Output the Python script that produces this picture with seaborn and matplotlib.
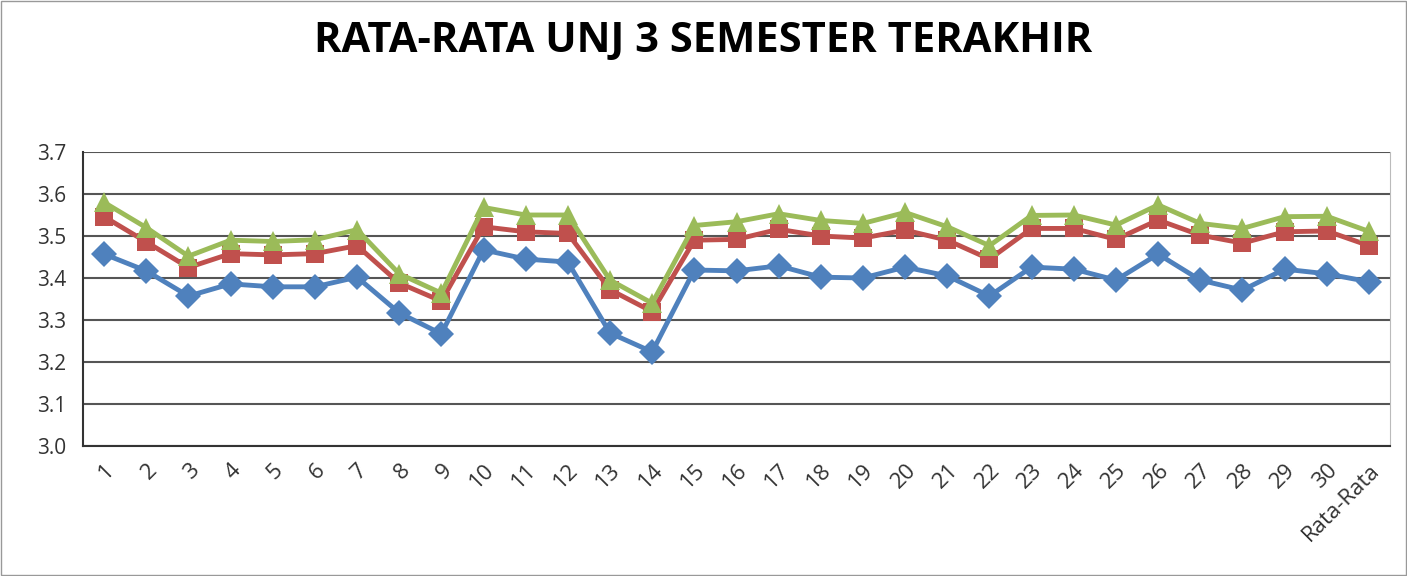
import pandas as pd
import seaborn as sns
import matplotlib.pyplot as plt

# data
labels = [str(i) for i in range(1, 31)] + ['Rata-Rata']

sem_a = [3.457, 3.417, 3.357, 3.386, 3.379, 3.379, 3.402, 3.317, 3.267, 3.467,
         3.445, 3.438, 3.269, 3.224, 3.419, 3.417, 3.429, 3.402, 3.400, 3.426,
         3.405, 3.357, 3.426, 3.421, 3.395, 3.457, 3.395, 3.371, 3.421, 3.410,
         3.391]
sem_b = [3.546, 3.486, 3.425, 3.458, 3.455, 3.458, 3.477, 3.388, 3.345, 3.522,
         3.510, 3.506, 3.372, 3.320, 3.490, 3.492, 3.516, 3.500, 3.495, 3.514,
         3.490, 3.445, 3.518, 3.518, 3.492, 3.538, 3.502, 3.483, 3.510, 3.512,
         3.477]
sem_c = [3.580, 3.520, 3.452, 3.490, 3.487, 3.491, 3.515, 3.410, 3.364, 3.568,
         3.550, 3.550, 3.395, 3.340, 3.525, 3.534, 3.553, 3.537, 3.530, 3.556,
         3.522, 3.477, 3.549, 3.550, 3.526, 3.574, 3.530, 3.518, 3.546, 3.547,
         3.511]

df = pd.DataFrame({'pos': range(len(labels)), 'a': sem_a, 'b': sem_b, 'c': sem_c})

sns.set_style('white')
plt.rcParams['font.family'] = ['Open Sans', 'DejaVu Sans']

fig = plt.figure(figsize=(14.07, 5.76), dpi=100)
ax = fig.add_axes([83 / 1407, 1 - 446 / 576, (1390 - 83) / 1407, (446 - 152) / 576])

sns.lineplot(data=df, x='pos', y='a', ax=ax, color='#4F81BD', lw=3.5, marker='D',
             markersize=13, markeredgewidth=0)
sns.lineplot(data=df, x='pos', y='b', ax=ax, color='#C0504D', lw=3.5, marker='s',
             markersize=13, markeredgewidth=0)
sns.lineplot(data=df, x='pos', y='c', ax=ax, color='#9BBB59', lw=3.5, marker='^',
             markersize=14, markeredgewidth=0)

ax.set_ylim(3.0, 3.7)
ax.set_yticks([3.0, 3.1, 3.2, 3.3, 3.4, 3.5, 3.6, 3.7])
ax.set_yticklabels([f'{v:.1f}' for v in ax.get_yticks()], fontsize=15, color='#333333')
ax.set_xlim(-0.5, len(labels) - 0.5)
ax.set_xticks(df['pos'])
ax.set_xticklabels(labels, rotation=45, ha='right', rotation_mode='anchor',
                   fontsize=16, color='#333333')
ax.tick_params(axis='y', length=0, pad=12)
ax.tick_params(axis='x', length=0, pad=10)
ax.set_xlabel('')
ax.set_ylabel('')
ax.yaxis.grid(True, color='#555555', lw=1.5)
ax.set_axisbelow(True)
for s in ['left', 'bottom']:
    ax.spines[s].set_color('#333333')
    ax.spines[s].set_linewidth(1.5)
ax.spines['top'].set_visible(False)
ax.spines['right'].set_color('#BBBBBB')

fig.text(0.5, 1 - 42 / 576, 'RATA-RATA UNJ 3 SEMESTER TERAKHIR', ha='center',
         va='center', fontsize=30, fontweight='bold', color='black')

# outer chart border
fig.patches.append(plt.Rectangle((0.001, 0.001), 0.998, 0.998, transform=fig.transFigure,
                                 fill=False, edgecolor='#999999', lw=1))

fig.savefig('out.png', dpi=100)
